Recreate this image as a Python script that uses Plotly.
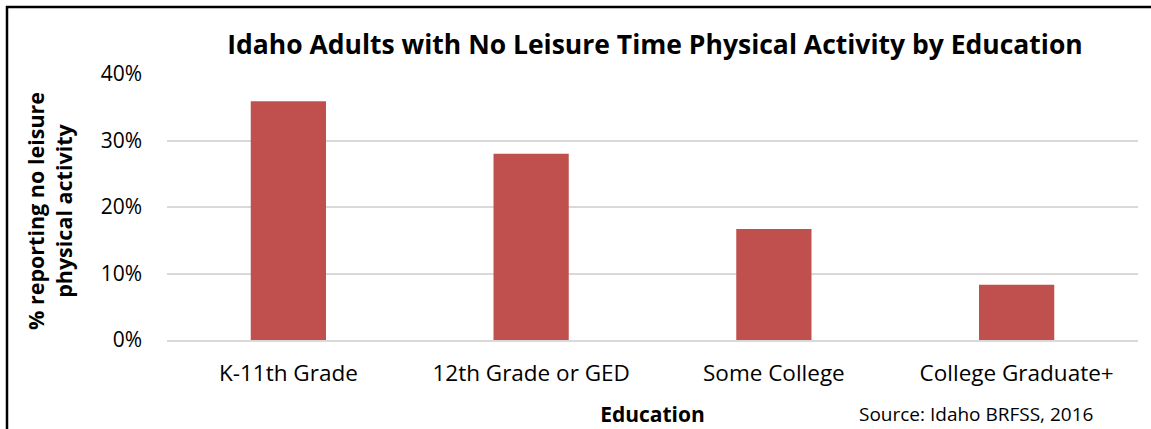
import plotly.graph_objects as go

categories = ["K-11th Grade", "12th Grade or GED", "Some College", "College Graduate+"]
values = [35.9, 28.0, 16.7, 8.3]
tick_vals = [0, 10, 20, 30, 40]
tick_text = ["0%", "10%", "20%", "30%", "40%"]

W, H = 1151, 429
L, R, T, B = 167, 13, 74, 89
pw, ph = W - L - R, H - T - B

def px_x(x):
    return (x - L) / pw

def px_y(y):
    return (H - B - y) / ph

FONT = "Open Sans, Carlito, Calibri, sans-serif"

fig = go.Figure(go.Bar(
    x=categories, y=[v / 100 for v in values],
    marker=dict(color="#c0504d", line=dict(width=0)),
    width=0.31,
))

fig.update_layout(
    width=W, height=H,
    margin=dict(l=L, r=R, t=T, b=B),
    paper_bgcolor="white", plot_bgcolor="white",
    showlegend=False,
    font=dict(family=FONT, color="#000000", size=21),
    title=dict(text="<b>Idaho Adults with No Leisure Time Physical Activity by Education</b>",
               x=px_x(655), xref="paper", xanchor="center",
               y=1 - 45 / H, yanchor="middle", yref="container",
               font=dict(size=26.5, family=FONT, color="#000000")),
    xaxis=dict(showgrid=False, showline=True, linecolor="#d9d9d9", linewidth=2,
               ticks="", tickfont=dict(size=22.5), ticklabelstandoff=12, automargin=False,
               title=dict(text="<b>Education</b>", font=dict(size=21), standoff=20)),
    yaxis=dict(range=[0, 0.4], tickvals=[v / 100 for v in tick_vals], ticktext=tick_text,
               showgrid=True, gridcolor="#d9d9d9", gridwidth=1.5, zeroline=False, automargin=False,
               ticks="", tickfont=dict(size=21), ticklabelstandoff=24, showline=False),
    shapes=[
        dict(type="line", xref="paper", yref="paper", x0=px_x(7), x1=px_x(7), y0=px_y(6), y1=px_y(440),
             line=dict(color="black", width=2.5)),
        dict(type="line", xref="paper", yref="paper", x0=px_x(6), x1=px_x(1160), y0=px_y(7), y1=px_y(7),
             line=dict(color="black", width=2.5)),
    ],
    annotations=[
        dict(text="<b>% reporting no leisure<br>physical activity</b>", xref="paper", yref="paper",
             x=px_x(49), y=px_y(211), xanchor="center", yanchor="middle", textangle=-90,
             showarrow=False, font=dict(size=21.5, family=FONT)),
        dict(text="Source: Idaho BRFSS, 2016", xref="paper", yref="paper",
             x=px_x(1095), y=px_y(414), xanchor="right", yanchor="middle",
             showarrow=False, font=dict(size=19, family=FONT)),
    ],
)

fig.write_html("out.html", config={"displayModeBar": False},
               post_script="document.body.style.margin='0';document.body.style.overflow='hidden';")
